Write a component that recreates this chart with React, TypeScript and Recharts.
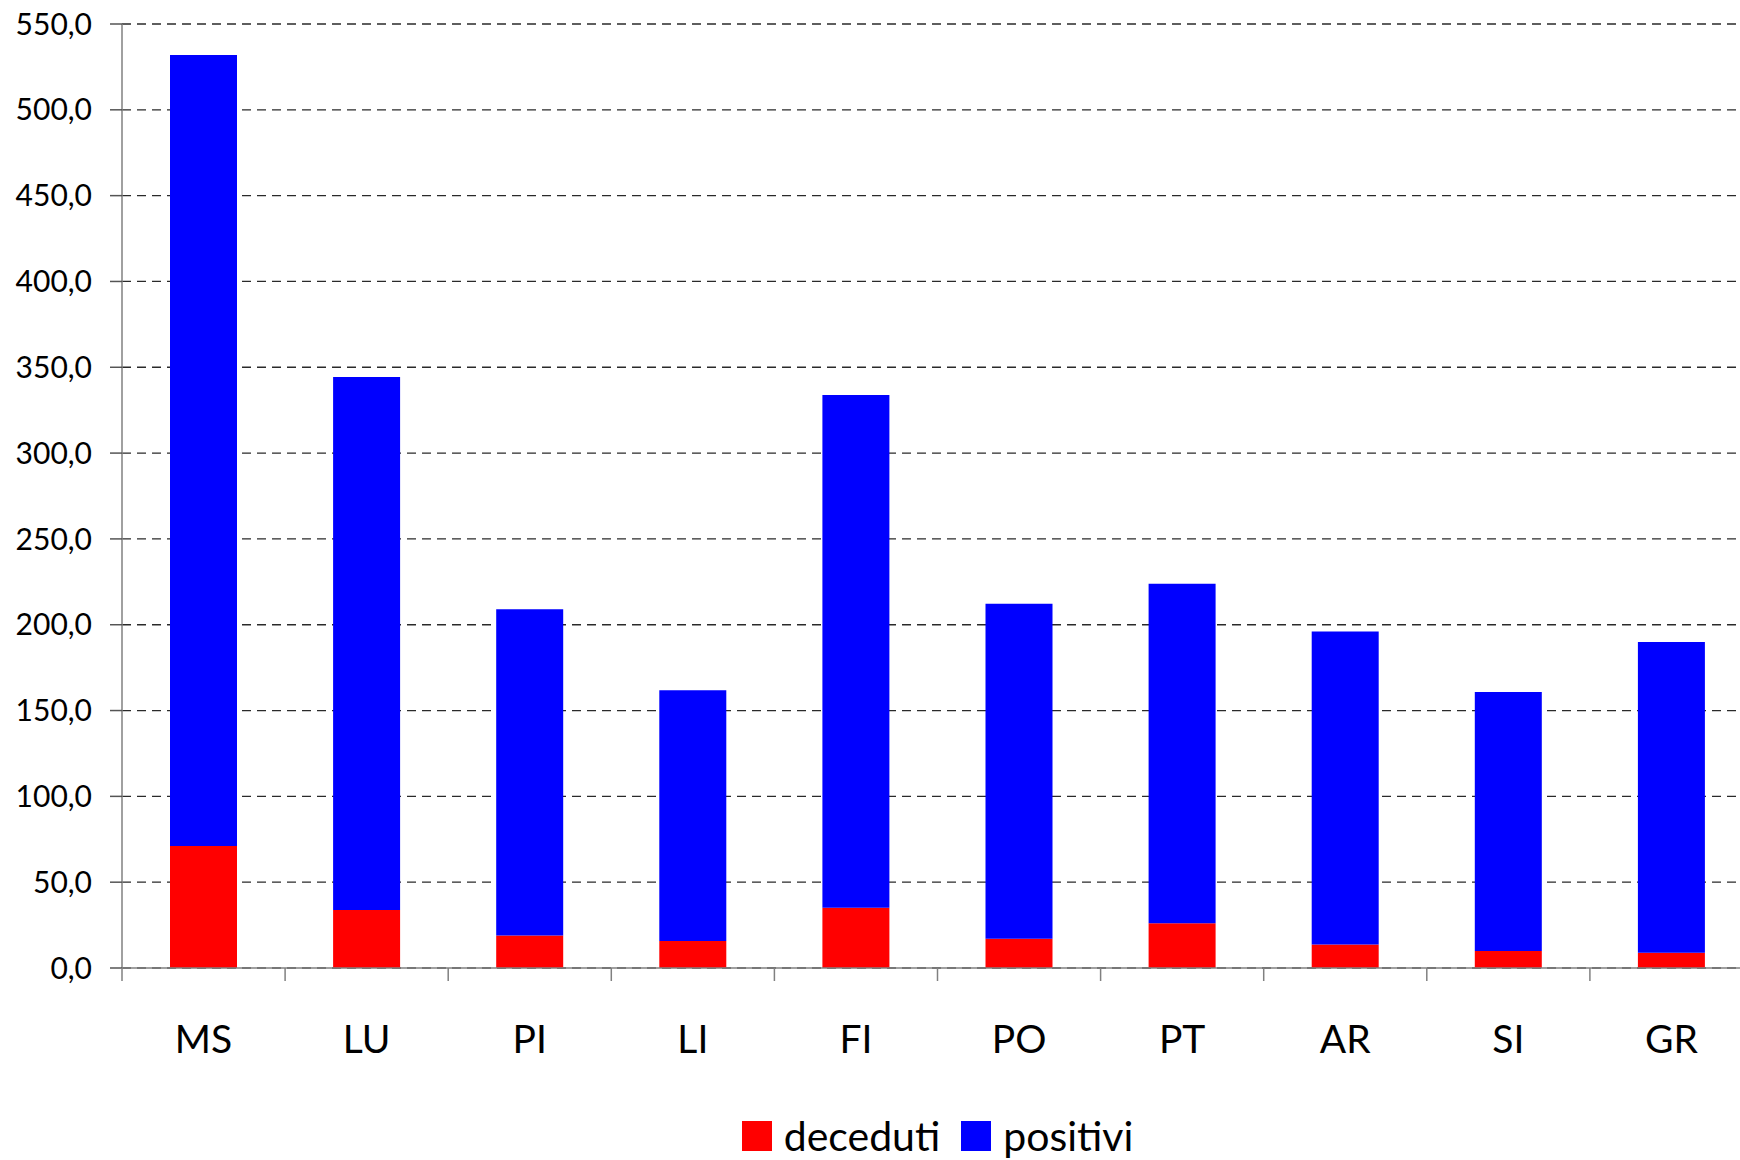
import React from "react"
import { Bar, BarChart, CartesianGrid, Legend, XAxis, YAxis } from "recharts"

const PROVINCES = ["MS", "LU", "PI", "LI", "FI", "PO", "PT", "AR", "SI", "GR"]
const DECEDUTI = [71.1, 33.8, 18.9, 15.7, 35.1, 17.0, 26.0, 13.7, 9.9, 8.9]
const POSITIVI = [460.9, 310.5, 190.1, 146.1, 298.7, 195.2, 197.9, 182.4, 150.9, 181.0]
const Y_TICKS = [0, 50, 100, 150, 200, 250, 300, 350, 400, 450, 500, 550]

const FONT = "Lato, 'Open Sans', sans-serif"

const data = PROVINCES.map((name, i) => ({
  name,
  deceduti: DECEDUTI[i],
  positivi: POSITIVI[i],
}))

function CategoryTick(props: any) {
  const { x, y, payload } = props
  const half = payload && typeof payload.offset === "number" ? payload.offset : 81.5
  return (
    <g>
      <line x1={x - half} x2={x - half} y1={y} y2={y + 13} stroke="#808080" strokeWidth={1.5} />
      <text
        x={x}
        y={y + 70}
        textAnchor="middle"
        dominantBaseline="central"
        fontFamily={FONT}
        fontSize={39}
        fill="#000"
      >
        {payload.value}
      </text>
    </g>
  )
}

function LegendContent(props: any) {
  const items = props.payload || []
  return (
    <div style={{ display: "flex", justifyContent: "center", alignItems: "center", gap: 21, height: 42 }}>
      {items.map((item: any) => (
        <div key={item.value} style={{ display: "flex", alignItems: "center", gap: 12 }}>
          <div style={{ width: 30, height: 30, background: item.color }} />
          <span style={{ fontFamily: FONT, fontSize: 41, color: "#000", lineHeight: "42px" }}>{item.value}</span>
        </div>
      ))}
    </div>
  )
}

export default function App() {
  return (
    <div
      style={{
        position: "fixed",
        left: 0,
        top: 0,
        width: 1740,
        height: 1160,
        overflow: "hidden",
        background: "#fff",
      }}
    >
      <BarChart
        width={1760}
        height={1160}
        data={data}
        margin={{ top: 24, right: 7, bottom: 0, left: 0 }}
        barSize={67}
      >
        <CartesianGrid vertical={false} stroke="#2a2a2a" strokeWidth={1.3} strokeDasharray="9 6" />
        <YAxis
          domain={[0, 550]}
          ticks={Y_TICKS}
          interval={0}
          width={122}
          tickSize={12}
          tickMargin={18}
          axisLine={{ stroke: "#808080", strokeWidth: 1.5 }}
          tickLine={{ stroke: "#555", strokeWidth: 1.5 }}
          tick={{ fontFamily: FONT, fontSize: 30, fill: "#000" }}
          tickFormatter={(v: number) => v.toFixed(1).replace(".", ",")}
        />
        <XAxis
          dataKey="name"
          interval={0}
          height={192}
          tickSize={0}
          tickMargin={0}
          tickLine={false}
          axisLine={{ stroke: "#808080", strokeWidth: 1.5 }}
          tick={<CategoryTick />}
        />
        <Legend
          verticalAlign="middle"
          align="center"
          content={<LegendContent />}
          wrapperStyle={{ top: 1115, left: 122, width: 1631, height: 42 }}
        />
        <Bar dataKey="deceduti" stackId="a" fill="#FF0000" isAnimationActive={false} />
        <Bar dataKey="positivi" stackId="a" fill="#0000FF" isAnimationActive={false} />
      </BarChart>
    </div>
  )
}
